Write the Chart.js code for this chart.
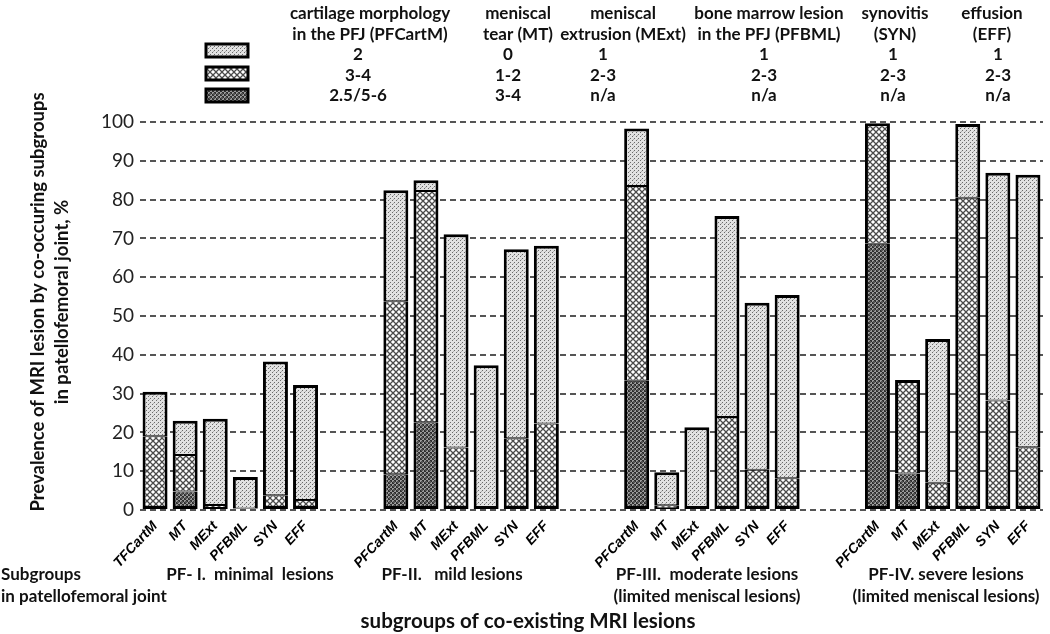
<!DOCTYPE html>
<html>
<head>
<meta charset="utf-8">
<script src="https://cdn.jsdelivr.net/npm/chart.js@4.4.0/dist/chart.umd.min.js"></script>
<style>
html, body { margin:0; padding:0; background:#fff; }
</style>
</head>
<body>
<canvas id="chart" width="1050" height="634"></canvas>
<script>
// bar names inside each group
var barNames1 = ['TFCartM','MT','MExt','PFBML','SYN','EFF'];
var barNames = ['PFCartM','MT','MExt','PFBML','SYN','EFF'];
var groupNames = [
    ['PF- I.  minimal  lesions'],
    ['PF-II.   mild lesions'],
    ['PF-III.  moderate lesions','(limited meniscal lesions)'],
    ['PF-IV. severe lesions','(limited meniscal lesions)']
];
var yTicks = [0,10,20,30,40,50,60,70,80,90,100];

// stacked segments, % (4 groups x 6 bars)
var darkPart = [0,4.8,0,0,0,0,  9.2,22.6,0,0,0,0,  33.3,0,0,0,0,0,  68.6,9.4,0,0,0,0];
var crossPart = [19,9.4,1.3,0.4,3.8,2.6,  44.6,59.6,16.1,0,18.5,22.3,  50.2,1.2,0,24,10.4,8.2,  31.1,24.1,7,80.5,28.2,16.2];
var dotPart = [11.5,8.8,22.2,8.1,34.5,29.6,  28.6,2.8,55,37.3,48.7,45.8,  14.8,8.5,21.3,51.8,43,47.2,  0,0,37.1,19,58.7,70.2];

// legend header
var headerTitles = [
    ['cartilage morphology','in the PFJ (PFCartM)'],
    ['meniscal','tear (MT)'],
    ['meniscal','extrusion (MExt)'],
    ['bone marrow lesion','in the PFJ (PFBML)'],
    ['synovitis','(SYN)'],
    ['effusion','(EFF)']
];
var headerRow1 = ['2','0','1','1','1','1'];
var headerRow2 = ['3-4','1-2','2-3','2-3','2-3','2-3'];
var headerRow3 = ['2.5/5-6','3-4','n/a','n/a','n/a','n/a'];

var FONT = 'Lato';

// two empty slots between groups
function withGaps(arr){
    var out = [];
    for (var g = 0; g < 4; g++) {
        for (var i = 0; i < 6; i++) out.push(arr[g*6+i]);
        if (g < 3) { out.push(null); out.push(null); }
    }
    return out;
}
var labels = withGaps(barNames1.concat(barNames, barNames, barNames)).map(function(l){ return l || ''; });

function makePattern(kind){
    var c = document.createElement('canvas');
    var x = c.getContext('2d');
    if (kind == 'dots') {
        c.width = 4; c.height = 4;
        x.fillStyle = '#e2e2e2'; x.fillRect(0,0,4,4);
        x.fillStyle = '#6a6a6a';
        x.fillRect(0,0,1,1); x.fillRect(2,2,1,1);
        x.fillStyle = '#b0b0b0';
        x.fillRect(1,3,1,1);
    } else if (kind == 'cross') {
        c.width = 6; c.height = 6;
        x.fillStyle = '#fff'; x.fillRect(0,0,6,6);
        x.strokeStyle = '#4a4a4a'; x.lineWidth = 1.3;
        x.beginPath();
        x.moveTo(-1,-1); x.lineTo(7,7);
        x.moveTo(7,-1); x.lineTo(-1,7);
        x.stroke();
    } else {
        c.width = 4; c.height = 4;
        x.fillStyle = '#2e2e2e'; x.fillRect(0,0,4,4);
        x.fillStyle = '#9a9a9a';
        x.fillRect(0,0,2,2); x.fillRect(2,2,2,2);
        x.fillStyle = '#555';
        x.fillRect(1,1,2,2);
    }
    return x.createPattern(c, 'repeat');
}
var patDots = makePattern('dots');
var patCross = makePattern('cross');
var patDark = makePattern('dark');

function segBorder(c){
    var v = c.raw;
    if (!v) return 0;
    var ds = c.chart.data.datasets, i = c.dataIndex, d = c.datasetIndex;
    var below = false, above = false;
    for (var k = 0; k < ds.length; k++) {
        if (ds[k].data[i] > 0) {
            if (k < d) below = true;
            if (k > d) above = true;
        }
    }
    return {left:3, right:3, top: above ? 1 : 3, bottom: below ? 1 : 3};
}

function drawLegendBox(ctx, y, pat){
    ctx.fillStyle = pat;
    ctx.fillRect(206, y, 42, 13);
    ctx.lineWidth = 3;
    ctx.strokeStyle = '#000';
    ctx.strokeRect(206, y, 42, 13);
}

var textPlugin = {
    id: 'texts',
    afterDraw: function(chart){
        var ctx = chart.ctx;
        ctx.save();
        ctx.fillStyle = '#111';
        ctx.textBaseline = 'middle';

        // y axis title
        ctx.save();
        ctx.translate(38, 302);
        ctx.rotate(-Math.PI/2);
        ctx.textAlign = 'center';
        ctx.font = 'bold 18.5px ' + FONT;
        ctx.fillText('Prevalence of MRI lesion by co-occuring subgroups', 0, 0);
        ctx.fillText('in patellofemoral joint, %', 0, 24);
        ctx.restore();

        // header
        var titleX = [370, 518, 623, 769, 895, 992];
        var valX = [358, 508, 603, 764, 893, 998];
        ctx.font = 'bold 17px ' + FONT;
        ctx.textAlign = 'center';
        for (var i = 0; i < 6; i++) {
            ctx.fillText(headerTitles[i][0], titleX[i], 14);
            ctx.fillText(headerTitles[i][1], titleX[i], 35);
            ctx.fillText(headerRow1[i], valX[i], 55);
            ctx.fillText(headerRow2[i], valX[i], 76);
            ctx.fillText(headerRow3[i], valX[i], 96);
        }
        drawLegendBox(ctx, 44, patDots);
        drawLegendBox(ctx, 67, patCross);
        drawLegendBox(ctx, 89, patDark);

        // bottom texts
        ctx.fillStyle = '#111';
        ctx.font = 'bold 17px ' + FONT;
        ctx.textAlign = 'left';
        ctx.fillText('Subgroups', 1, 575);
        ctx.fillText('in patellofemoral joint', 1, 597);
        ctx.textAlign = 'center';
        var gx = [250, 452, 707, 946];
        for (var g = 0; g < groupNames.length; g++) {
            for (var l = 0; l < groupNames[g].length; l++) {
                ctx.fillText(groupNames[g][l], gx[g], 575 + l*22);
            }
        }
        ctx.font = 'bold 20.5px ' + FONT;
        ctx.fillText('subgroups of co-existing MRI lesions', 528, 621);
        ctx.restore();
    }
};

new Chart(document.getElementById('chart'), {
    type: 'bar',
    data: {
        labels: labels,
        datasets: [
            { label: 'severe', data: withGaps(darkPart), backgroundColor: patDark },
            { label: 'moderate', data: withGaps(crossPart), backgroundColor: patCross },
            { label: 'mild', data: withGaps(dotPart), backgroundColor: patDots }
        ]
    },
    options: {
        responsive: false,
        animation: false,
        devicePixelRatio: 1,
        layout: { padding: { top: 122, right: 7, bottom: 0, left: 0 } },
        datasets: {
            bar: {
                barPercentage: 0.83,
                categoryPercentage: 1.0,
                borderColor: '#000',
                borderWidth: segBorder,
                borderSkipped: false
            }
        },
        plugins: {
            legend: { display: false },
            tooltip: { enabled: false }
        },
        scales: {
            x: {
                stacked: true,
                grid: { display: false },
                border: { display: false },
                ticks: {
                    autoSkip: false,
                    maxRotation: 47,
                    minRotation: 47,
                    padding: 0,
                    color: '#000',
                    font: { family: "'Liberation Sans', Arial, sans-serif", size: 14, weight: 'bold', style: 'italic' }
                },
                afterFit: function(s){ s.height = 124; }
            },
            y: {
                stacked: true,
                min: 0,
                max: 100,
                afterBuildTicks: function(s){ s.ticks = yTicks.map(function(v){ return {value: v}; }); },
                grid: { color: '#555', lineWidth: 2, drawTicks: false },
                border: { display: false, dash: [6,4] },
                ticks: {
                    padding: 6,
                    color: '#222',
                    font: { family: FONT, size: 19 }
                },
                afterFit: function(s){ s.width = 140; }
            }
        }
    },
    plugins: [textPlugin]
});
</script>
</body>
</html>
